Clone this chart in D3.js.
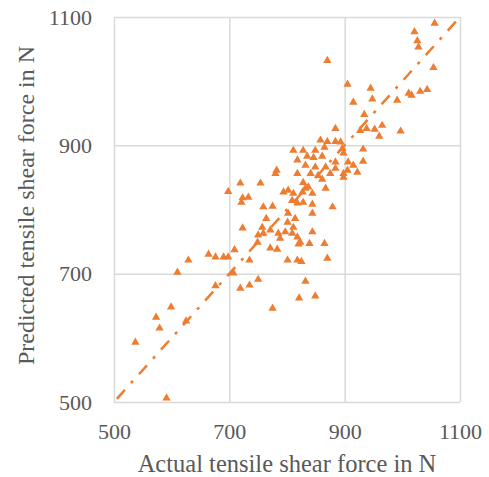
<!DOCTYPE html>
<html>
<head>
<meta charset="utf-8">
<script src="https://cdn.jsdelivr.net/npm/d3@7"></script>
<style>
  body { margin: 0; background: #fff; }
  text { font-family: "Liberation Serif", "Times New Roman", serif; fill: #595959; }
</style>
</head>
<body>
<div id="chart"></div>
<script>
// values
var actual = [1056, 1021, 1026, 1028, 1054, 870, 905, 945, 948, 915, 991, 1011, 1016, 1031, 1043,
  934, 884, 927, 938, 952, 965, 960, 997, 932, 932,
  858, 870, 884, 893, 865, 896, 828, 849, 898, 861, 846, 835, 884, 906, 832, 849, 867, 884, 905, 915,
  922, 898, 875, 854, 841, 861, 828, 837, 867, 844, 827, 811, 818, 818, 832, 811, 809, 818, 828, 844,
  879, 844, 814, 811, 844, 818, 823, 820, 839, 865, 870, 825, 832, 821, 849,
  782, 780, 719, 754, 698, 723, 733, 794, 802, 759, 775, 721, 764, 802, 801, 723, 757, 759, 771, 785,
  797, 809, 749, 788, 771, 783, 801, 818, 735, 709, 690, 698, 664, 676, 629, 610, 707, 719, 735, 750,
  775, 599, 573, 579, 537, 591, 625, 676, 750, 898];
var predicted = [1090, 1077, 1063, 1053, 1021, 1032, 995, 989, 972, 967, 970, 981, 978, 984, 987,
  948, 926, 923, 926, 925, 931, 914, 922, 894, 875,
  908, 906, 906, 905, 897, 895, 892, 892, 888, 883, 881, 883, 874, 874, 869, 866, 866, 864, 861, 869,
  858, 856, 856, 853, 856, 847, 842, 835, 833, 825, 827, 892, 877, 856, 833, 825, 814, 810, 811, 808,
  804, 794, 786, 772, 765, 757, 749, 746, 747, 747, 724, 719, 688, 662, 665,
  861, 856, 841, 841, 828, 818, 819, 827, 830, 804, 805, 811, 786, 794, 780, 771, 772, 763, 768, 763,
  765, 763, 749, 755, 740, 738, 721, 721, 721, 737, 726, 726, 730, 726, 721, 702, 701, 677, 682, 691,
  646, 648, 632, 615, 593, 506, 626, 681, 760, 850];
var trendX = [505, 1100];
var trendY = [505, 1100];
var ticks = [500, 700, 900, 1100];

var margin = {top: 17, right: 29, bottom: 75, left: 114},
    width = 489 - margin.left - margin.right,
    height = 477 - margin.top - margin.bottom;

var svg = d3.select("#chart")
  .append("svg")
    .attr("width", width + margin.left + margin.right)
    .attr("height", height + margin.top + margin.bottom)
  .append("g")
    .attr("transform", "translate(" + margin.left + "," + margin.top + ")");

var x = d3.scaleLinear().domain([500, 1100]).range([0, width]);
var y = d3.scaleLinear().domain([500, 1100]).range([height, 0]);

// grid
svg.append("g")
  .attr("transform", "translate(0," + height + ")")
  .call(d3.axisBottom(x).tickValues(ticks).tickSize(-height).tickFormat(""))
  .call(function(g) { g.select(".domain").remove(); })
  .selectAll("line").attr("stroke", "#d9d9d9").attr("stroke-width", 1.5);
svg.append("g")
  .call(d3.axisLeft(y).tickValues(ticks).tickSize(-width).tickFormat(""))
  .call(function(g) { g.select(".domain").remove(); })
  .selectAll("line").attr("stroke", "#d9d9d9").attr("stroke-width", 1.5);

// tick labels
svg.append("g")
  .attr("transform", "translate(0," + height + ")")
  .call(d3.axisBottom(x).tickValues(ticks).tickSize(0).tickPadding(21).tickFormat(d3.format("d")))
  .call(function(g) { g.select(".domain").remove(); })
  .selectAll("text")
    .style("font-size", "22px")
    .style("font-family", "Liberation Serif")
    .attr("fill", "#595959");
svg.append("g")
  .call(d3.axisLeft(y).tickValues(ticks).tickSize(0).tickPadding(22).tickFormat(d3.format("d")))
  .call(function(g) { g.select(".domain").remove(); })
  .selectAll("text")
    .style("font-size", "22px")
    .style("font-family", "Liberation Serif")
    .attr("fill", "#595959");

// trend line
var pts = trendX.map(function(d, i) { return [x(d), y(trendY[i])]; });
svg.append("path")
  .attr("d", d3.line()(pts))
  .attr("fill", "none")
  .attr("stroke", "#ED7D31")
  .attr("stroke-width", 2.5)
  .attr("stroke-dasharray", "12,9,3,9");

// points
var tri = d3.symbol().type(d3.symbolTriangle).size(30);
svg.selectAll(".pt")
  .data(actual)
  .enter()
  .append("path")
    .attr("class", "pt")
    .attr("d", tri)
    .attr("transform", function(d, i) { return "translate(" + x(d) + "," + y(predicted[i]) + ")"; })
    .attr("fill", "#ED7D31");

// axis titles
svg.append("text")
  .attr("x", width / 2)
  .attr("y", height + 70)
  .attr("text-anchor", "middle")
  .style("font-size", "24.5px")
  .text("Actual tensile shear force in N");
svg.append("text")
  .attr("transform", "rotate(-90)")
  .attr("x", -height / 2 + 4)
  .attr("y", -80)
  .attr("text-anchor", "middle")
  .style("font-size", "24px")
  .text("Predicted tensile shear force in N");
</script>
</body>
</html>
